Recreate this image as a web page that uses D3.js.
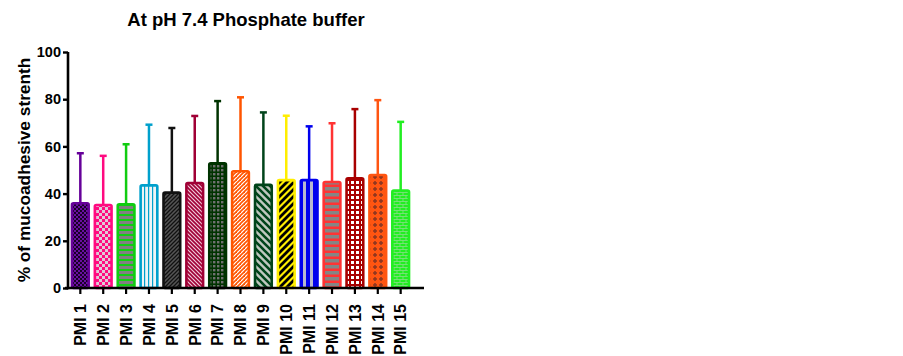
<!DOCTYPE html>
<html>
<head>
<meta charset="utf-8">
<script src="https://cdn.jsdelivr.net/npm/d3@7"></script>
<style>
  body { margin: 0; background: #fff; }
  svg { display: block; font-family: Arial, "Liberation Sans", sans-serif; }
</style>
</head>
<body>
<div id="chart"></div>
<script>
// data
const categories = ["PMI 1","PMI 2","PMI 3","PMI 4","PMI 5","PMI 6","PMI 7","PMI 8","PMI 9","PMI 10","PMI 11","PMI 12","PMI 13","PMI 14","PMI 15"];
const means = [35.9, 35.2, 35.5, 43.5, 40.4, 44.5, 52.8, 49.5, 43.7, 45.7, 45.7, 44.9, 46.5, 47.9, 41.3];
const upper = [57.1, 56.0, 60.9, 69.2, 67.8, 72.9, 79.2, 80.8, 74.4, 73.0, 68.5, 69.8, 75.8, 79.6, 70.4];
const yTicks = [0, 20, 40, 60, 80, 100];
const colors = ["#660099", "#ff0a80", "#11cc11", "#00a0cc", "#111111", "#a00035", "#003300", "#ff5500", "#00441a", "#ffee00", "#0000ee", "#ff3333", "#a80000", "#ff5511", "#22ee22"];

const width = 903, height = 356;
const margin = {left: 68, top: 52, right: 479, bottom: 68};

const svg = d3.select("#chart").append("svg")
  .attr("width", width)
  .attr("height", height);

// fill patterns, one per bar
const defs = svg.append("defs");
function pat(id, size, bg, draw) {
  const p = defs.append("pattern")
    .attr("id", id)
    .attr("patternUnits", "userSpaceOnUse")
    .attr("width", size).attr("height", size);
  p.append("rect").attr("width", size).attr("height", size).attr("fill", bg);
  draw(p);
}
// 1 dense purple/black checker
pat("p0", 4, "#1a0028", p => {
  p.append("rect").attr("width", 2).attr("height", 2).attr("fill", "#6a10a0");
  p.append("rect").attr("x", 2).attr("y", 2).attr("width", 2).attr("height", 2).attr("fill", "#6a10a0");
});
// 2 pink checker
pat("p1", 6, "#ff0a80", p => {
  p.append("rect").attr("width", 3).attr("height", 3).attr("fill", "#e0c8d8");
  p.append("rect").attr("x", 3).attr("y", 3).attr("width", 3).attr("height", 3).attr("fill", "#e0c8d8");
});
// 3 green horizontal stripes
pat("p2", 5, "#11cc11", p => {
  p.append("rect").attr("y", 1).attr("width", 5).attr("height", 3).attr("fill", "#808080");
});
// 4 light blue vertical lines
pat("p3", 4, "#eef4f6", p => {
  p.append("rect").attr("x", 0).attr("width", 1.2).attr("height", 4).attr("fill", "#00a0cc");
});
// 5 dark diagonal
pat("p4", 4, "#555555", p => {
  p.append("path").attr("d", "M0,4 L4,0 M-1,1 L1,-1 M3,5 L5,3").attr("stroke", "#111").attr("stroke-width", 1.3);
});
// 6 crimson diagonal
pat("p5", 4, "#f0c8d8", p => {
  p.append("path").attr("d", "M0,0 L4,4 M-1,3 L1,5 M3,-1 L5,1").attr("stroke", "#a00035").attr("stroke-width", 1.6);
});
// 7 dark green grid
pat("p6", 4, "#003300", p => {
  p.append("rect").attr("x", 1).attr("y", 1).attr("width", 2.4).attr("height", 2.4).attr("fill", "#707070");
});
// 8 orange diagonal checker
pat("p7", 4, "#ffffff", p => {
  p.append("path").attr("d", "M0,4 L4,0 M-1,1 L1,-1 M3,5 L5,3").attr("stroke", "#ff5500").attr("stroke-width", 1.6);
  p.append("rect").attr("x", 0).attr("y", 0).attr("width", 1).attr("height", 1).attr("fill", "#ff5500");
});
// 9 green wide diagonal
pat("p8", 7, "#c0c8c0", p => {
  p.append("path").attr("d", "M0,0 L7,7 M-2,5 L2,9 M5,-2 L9,2").attr("stroke", "#00441a").attr("stroke-width", 2.6);
});
// 10 yellow/black diagonal
pat("p9", 7, "#ffee00", p => {
  p.append("path").attr("d", "M0,7 L7,0 M-2,2 L2,-2 M5,9 L9,5").attr("stroke", "#000").attr("stroke-width", 2.8);
});
// 11 blue vertical
pat("p10", 7, "#0000ee", p => {
  p.append("rect").attr("x", 2).attr("width", 3).attr("height", 7).attr("fill", "#b8b8d0");
});
// 12 red horizontal stripes
pat("p11", 6, "#ff3333", p => {
  p.append("rect").attr("y", 1).attr("width", 6).attr("height", 3.5).attr("fill", "#858585");
});
// 13 dark red white squares
pat("p12", 5, "#a80000", p => {
  p.append("rect").attr("x", 1).attr("y", 1).attr("width", 3).attr("height", 3).attr("fill", "#ffffff");
});
// 14 orange dots
pat("p13", 6, "#ff5511", p => {
  p.append("path").attr("d", "M3,1 L3,5 M1,3 L5,3").attr("stroke", "#8a3520").attr("stroke-width", 1.5);
});
// 15 green bricks
pat("p14", 6, "#22ee22", p => {
  p.append("path").attr("d", "M0,0.5 L6,0.5 M0,3.5 L6,3.5 M1,0.5 L1,3.5 M4,3.5 L4,6.5").attr("stroke", "#88dd88").attr("stroke-width", 0.8);
});

const x = d3.scaleBand()
  .domain(categories)
  .range([margin.left + 1, width - margin.right - 12])
  .paddingInner(0.27)
  .paddingOuter(0.13);

const y = d3.scaleLinear()
  .domain([0, 100])
  .range([height - margin.bottom, margin.top]);

const rows = categories.map((c, i) => ({c, m: means[i], u: upper[i], i}));

// error bars (upper only)
const eb = svg.append("g");
eb.selectAll("line.v").data(rows).enter().append("line")
  .attr("x1", d => x(d.c) + x.bandwidth() / 2)
  .attr("x2", d => x(d.c) + x.bandwidth() / 2)
  .attr("y1", d => y(d.m))
  .attr("y2", d => y(d.u))
  .attr("stroke", d => colors[d.i])
  .attr("stroke-width", 2.5);
eb.selectAll("line.cap").data(rows).enter().append("line")
  .attr("x1", d => x(d.c) + x.bandwidth() / 2 - 3.5)
  .attr("x2", d => x(d.c) + x.bandwidth() / 2 + 3.5)
  .attr("y1", d => y(d.u))
  .attr("y2", d => y(d.u))
  .attr("stroke", d => colors[d.i])
  .attr("stroke-width", 2.5);

// bars
svg.append("g").selectAll("rect").data(rows).enter().append("rect")
  .attr("x", d => x(d.c))
  .attr("y", d => y(d.m))
  .attr("width", x.bandwidth())
  .attr("height", d => y(0) - y(d.m))
  .attr("rx", 1.5)
  .attr("fill", d => "url(#p" + d.i + ")")
  .attr("stroke", d => colors[d.i])
  .attr("stroke-width", 2.6);

// y axis
const yAxis = svg.append("g")
  .attr("transform", "translate(" + margin.left + ",0)")
  .call(d3.axisLeft(y).tickValues(yTicks).tickSize(5).tickPadding(2));
yAxis.select(".domain").attr("stroke-width", 2.6).attr("d", "M0," + (y(100)) + "V" + (y(0) + 1.3));
yAxis.selectAll(".tick line").attr("stroke-width", 2.4);
yAxis.selectAll("text").attr("font-size", 14.5).attr("font-weight", "bold").attr("fill", "#000")
  .attr("font-family", "Arial, 'Liberation Sans', sans-serif");

// x axis
const xAxis = svg.append("g")
  .attr("transform", "translate(0," + y(0) + ")")
  .call(d3.axisBottom(x).tickSize(6).tickPadding(6));
xAxis.select(".domain").attr("stroke-width", 2.6).attr("d", "M" + (margin.left - 3) + ",0H" + (width - margin.right));
xAxis.selectAll(".tick line").attr("stroke-width", 2.2);
xAxis.selectAll("text")
  .attr("font-size", 16).attr("font-weight", "bold").attr("fill", "#000")
  .attr("font-family", "Arial, 'Liberation Sans', sans-serif")
  .attr("transform", "rotate(-90)")
  .attr("text-anchor", "end")
  .attr("x", -16).attr("y", 0).attr("dy", "0.36em");

// title
svg.append("text")
  .attr("x", 246).attr("y", 26)
  .attr("text-anchor", "middle")
  .attr("font-size", 18.5).attr("font-weight", "bold")
  .text("At pH 7.4 Phosphate buffer");

// y label
svg.append("text")
  .attr("transform", "translate(30," + ((y(0) + y(100)) / 2) + ") rotate(-90)")
  .attr("text-anchor", "middle")
  .attr("font-size", 17.3).attr("font-weight", "bold")
  .text("% of mucoadhesive strenth");
</script>
</body>
</html>
